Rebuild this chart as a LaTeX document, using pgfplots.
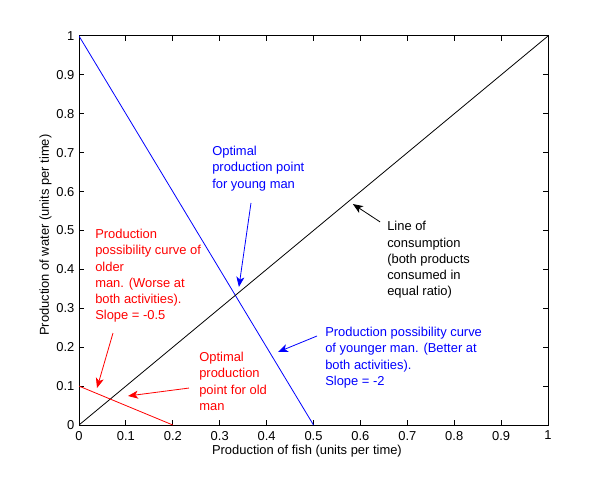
\documentclass[border=0pt]{standalone}
\usepackage{fontspec}
\setmainfont{Liberation Sans}
\usepackage{pgfplots}
\pgfplotsset{compat=1.18}
\usetikzlibrary{arrows.meta}

\newcommand{\fs}{\fontsize{9.7}{12.2}\selectfont}

\begin{document}
\begin{tikzpicture}
\begin{axis}[
  at={(59.25pt,39.75pt)}, anchor=south west,
  scale only axis,
  width=351.75pt, height=291.75pt,
  xmin=0, xmax=1, ymin=0, ymax=1,
  xtick={0,0.1,0.2,0.3,0.4,0.5,0.6,0.7,0.8,0.9,1},
  ytick={0,0.1,0.2,0.3,0.4,0.5,0.6,0.7,0.8,0.9,1},
  tick align=inside,
  major tick length=3.75pt,
  axis line style={line width=0.75pt},
  every tick/.style={black, line width=0.75pt},
  /pgf/number format/assume math mode=true,
  /pgf/number format/fixed,
  /pgf/number format/precision=1,
  ticklabel style={font=\fs},
  xticklabel style={yshift=-1pt},
  label style={font=\fs},
  xlabel={Production of fish (units per time)},
  ylabel={Production of water (units per time)},
  xlabel style={at={(axis description cs:0.486,-0.0771)}, anchor=base},
  ylabel style={at={(axis description cs:-0.064,0.488)}, anchor=base},
]
% production possibility curve, younger man
\addplot[blue, line width=0.6pt] coordinates {(0,1) (0.5,0)};
% line of consumption
\addplot[black, line width=0.6pt] coordinates {(0,0) (1,1)};
% production possibility curve, older man
\addplot[red, line width=0.6pt] coordinates {(0,0.1) (0.2,0)};

\tikzset{ann/.style={line width=0.6pt, -{Stealth[length=7.5pt,width=6pt,inset=2pt]}}}
\draw[ann, blue] (axis cs:0.3667,0.5707) -- (axis cs:0.341,0.355);
\draw[ann, black] (axis cs:0.642,0.522) -- (axis cs:0.584,0.568);
\draw[ann, blue] (axis cs:0.5075,0.2288) -- (axis cs:0.4243,0.1877);
\draw[ann, red] (axis cs:0.0725,0.2365) -- (axis cs:0.0384,0.095);
\draw[ann, red] (axis cs:0.2345,0.095) -- (axis cs:0.1045,0.0746);

\node[blue, anchor=north west, inner sep=0pt, align=left, font=\fs]
  at (axis cs:0.2836,0.717) {Optimal\\production point\\for young man};
\node[black, anchor=north west, inner sep=0pt, align=left, font=\fs]
  at (axis cs:0.6567,0.524) {Line of\\consumption\\(both products\\consumed in\\equal ratio)};
\node[blue, anchor=north west, inner sep=0pt, align=left, font=\fs]
  at (axis cs:0.5245,0.252) {Production possibility curve\\of younger man. (Better at\\both activities).\\Slope = -2};
\node[red, anchor=north west, inner sep=0pt, align=left, font=\fs]
  at (axis cs:0.0341,0.504) {Production\\possibility curve of\\older\\man. (Worse at\\both activities).\\Slope = -0.5};
\node[red, anchor=north west, inner sep=0pt, align=left, font=\fs]
  at (axis cs:0.2559,0.1877) {Optimal\\production\\point for old\\man};
\end{axis}
\pgfresetboundingbox
\path[use as bounding box] (0,0) rectangle (453.75pt,358.5pt);
\end{tikzpicture}
\end{document}
